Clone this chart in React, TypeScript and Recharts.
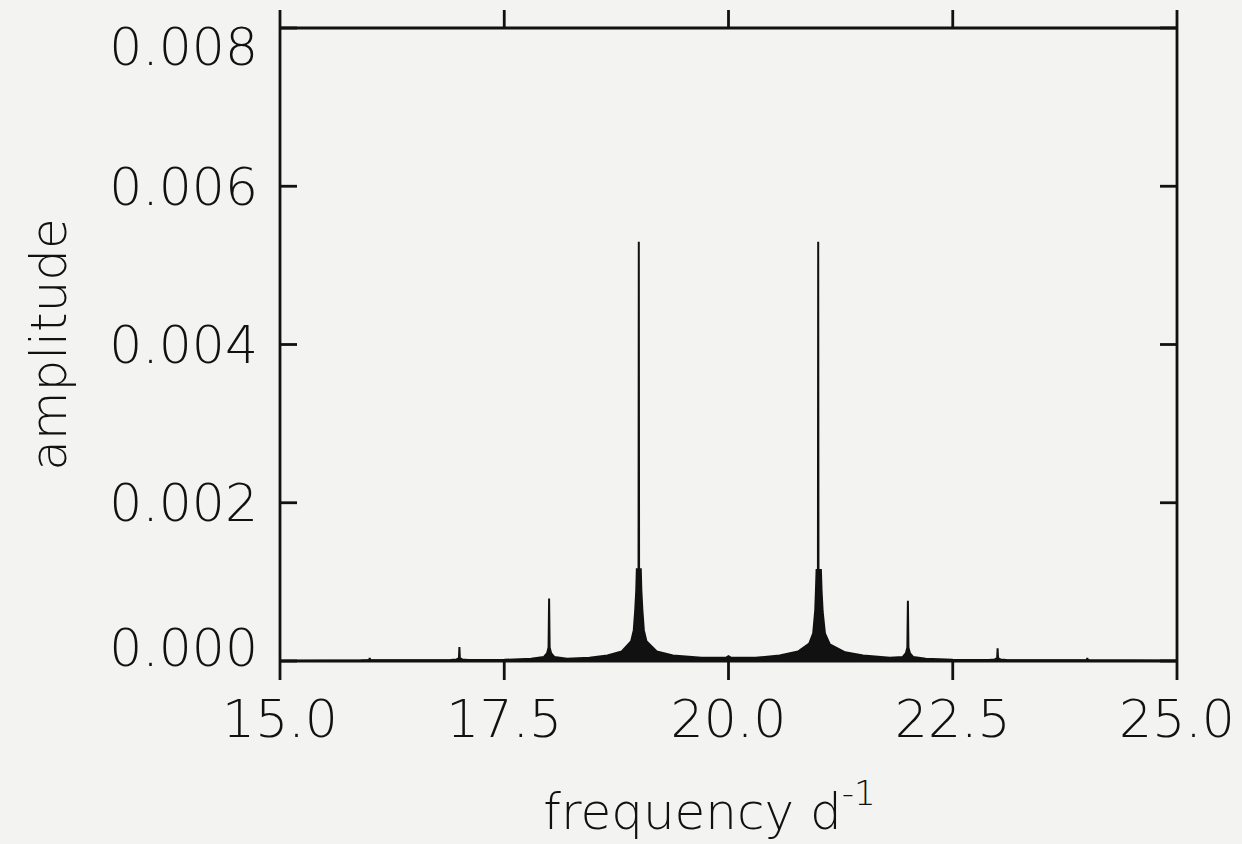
import { ComposedChart, Area, Line, XAxis, YAxis, Label } from "recharts";

const freq = [
  15.0, 15.5, 15.9, 15.97, 15.995, 16.0, 16.005, 16.03, 16.5,
  16.9, 16.97, 16.995, 17.0, 17.005, 17.03, 17.1, 17.5,
  17.8, 17.94, 17.978, 17.994, 18.0, 18.006, 18.022, 18.06, 18.2,
  18.45, 18.65, 18.81, 18.915, 18.944, 18.96, 18.972, 18.978, 18.997,
  19.0, 19.003, 19.022, 19.028, 19.04, 19.056, 19.085, 19.2, 19.38, 19.7,
  19.97, 20.0, 20.03, 20.3,
  20.57, 20.775, 20.9, 20.944, 20.967, 20.975, 20.982, 20.997,
  21.0, 21.003, 21.03, 21.037, 21.05, 21.075, 21.13, 21.3, 21.5,
  21.8, 21.94, 21.978, 21.994, 22.0, 22.006, 22.022, 22.06, 22.2, 22.5,
  22.9, 22.97, 22.995, 23.0, 23.005, 23.03, 23.1, 23.5,
  23.97, 23.995, 24.0, 24.005, 24.03, 24.5, 25.0,
];
const amp = [
  0, 0.000003, 0.000006, 0.00001, 0.000012, 0.00004, 0.000012, 0.00001, 0.000008,
  0.000012, 0.00002, 0.00004, 0.000175, 0.00004, 0.00002, 0.000012, 0.000015,
  0.00003, 0.00005, 0.0001, 0.00017, 0.00079, 0.00017, 0.0001, 0.00005, 0.00003,
  0.00004, 0.00007, 0.00012, 0.00025, 0.00039, 0.00064, 0.0009, 0.00116, 0.00116,
  0.0053, 0.00116, 0.00116, 0.0009, 0.00064, 0.00039, 0.00025, 0.00012, 0.00007, 0.00004,
  0.00004, 0.00006, 0.00004, 0.00004,
  0.00007, 0.00012, 0.00022, 0.00035, 0.00064, 0.0009, 0.00115, 0.00115,
  0.0053, 0.00115, 0.00115, 0.0009, 0.00062, 0.00035, 0.00021, 0.00011, 0.00007,
  0.00004, 0.00005, 0.0001, 0.00017, 0.00076, 0.00017, 0.0001, 0.00005, 0.00003, 0.000015,
  0.000012, 0.00002, 0.00004, 0.00016, 0.00004, 0.00002, 0.000012, 0.000008,
  0.00001, 0.000012, 0.00004, 0.000012, 0.00001, 0.000006, 0.000003,
];
const xTicks = [15, 17.5, 20, 22.5, 25];
const yTicks = [0, 0.002, 0.004, 0.006, 0.008];

const data = freq.map((f, i) => ({ f, a: amp[i] }));

const FONT = "'DejaVu Sans', sans-serif";
const INK = "#111";
const SW = 2.8;
const line = { stroke: INK, strokeWidth: SW };

// left axis: label outside, tick mark pointing into the frame
function YTick(props: any) {
  const x = Number(props.x);
  const y = Number(props.y);
  const v = Number(props.payload.value);
  const spine = x + 22;
  const shift = v >= 0.008 ? 19 : v === 0 ? -13 : 0;
  return (
    <g>
      <line x1={spine} x2={spine + 17} y1={y} y2={y} stroke={INK} strokeWidth={SW} />
      <text x={x} y={y + shift} dy="0.355em" textAnchor="end" fill={INK}
        fontSize={52} fontFamily={FONT} fontWeight={200}>
        {v.toFixed(3)}
      </text>
    </g>
  );
}

function RightTick(props: any) {
  const x = Number(props.x);
  const y = Number(props.y);
  return <line x1={x} x2={x - 17} y1={y} y2={y} stroke={INK} strokeWidth={SW} />;
}

function TopTick(props: any) {
  const x = Number(props.x);
  const y = Number(props.y);
  return <line x1={x} x2={x} y1={y} y2={y - 18} stroke={INK} strokeWidth={SW} />;
}

function XTitle(props: any) {
  const { viewBox } = props;
  const cx = viewBox.x + viewBox.width / 2 - 19;
  return (
    <text x={cx} y={viewBox.y + 168} textAnchor="middle" fill={INK}
      fontSize={50} fontFamily={FONT} fontWeight={200}>
      <tspan>frequency d</tspan>
      <tspan dy={-24} fontSize={34}>-1</tspan>
    </text>
  );
}

function YTitle(props: any) {
  const { viewBox } = props;
  const cy = viewBox.y + viewBox.height / 2;
  const x = 66;
  return (
    <text x={x} y={cy} transform={`rotate(-90, ${x}, ${cy})`} textAnchor="middle"
      fill={INK} fontSize={50} fontFamily={FONT} fontWeight={200}>
      amplitude
    </text>
  );
}

export default function App() {
  return (
    <div style={{ position: "absolute", left: 0, top: 0, width: 1242, height: 844, background: "#f3f3f2" }}>
      <ComposedChart width={1242} height={844} data={data}
        margin={{ top: 10, right: 15, bottom: 13, left: 10 }}>
        <XAxis xAxisId="b" dataKey="f" type="number" domain={[15, 25]} ticks={xTicks}
          tickFormatter={(v: number) => v.toFixed(1)} height={170}
          axisLine={line} tickLine={line} tickSize={19} tickMargin={20}
          tick={{ fill: INK, fontSize: 52, fontFamily: FONT, fontWeight: 200 }}>
          <Label content={<XTitle />} />
        </XAxis>
        <XAxis xAxisId="t" orientation="top" dataKey="f" type="number" domain={[15, 25]}
          ticks={xTicks} height={18} axisLine={line} tickLine={false} tickSize={0} tickMargin={0}
          tick={<TopTick />} />
        <YAxis yAxisId="l" type="number" domain={[0, 0.008]} ticks={yTicks} width={270}
          axisLine={line} tickLine={false} tickSize={0} tickMargin={22} tick={<YTick />}>
          <Label content={<YTitle />} />
        </YAxis>
        <YAxis yAxisId="r" orientation="right" type="number" domain={[0, 0.008]} ticks={yTicks}
          width={50} axisLine={line} tickLine={false} tickSize={0} tickMargin={0} tick={<RightTick />} />
        <Area xAxisId="b" yAxisId="l" dataKey="a" type="linear" stroke={INK} strokeWidth={2}
          fill={INK} fillOpacity={1} dot={false} activeDot={false} isAnimationActive={false} />
        {/* invisible twin so the right-hand axis gets its ticks */}
        <Line xAxisId="t" yAxisId="r" dataKey="a" stroke="none" dot={false} activeDot={false}
          legendType="none" isAnimationActive={false} />
      </ComposedChart>
    </div>
  );
}
